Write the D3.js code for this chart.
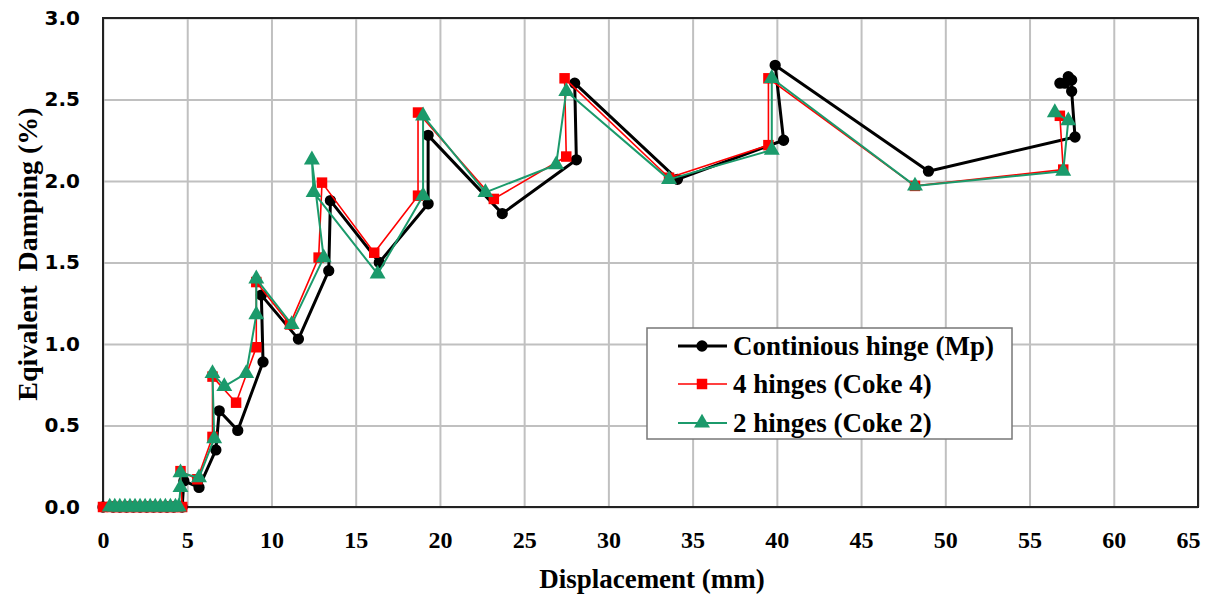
<!DOCTYPE html>
<html lang="en">
<head>
<meta charset="UTF-8">
<script src="https://d3js.org/d3.v7.min.js"></script>
<title>Equivalent Damping</title>
<style>
    body { margin: 0; background: #fff; }
</style>
</head>
<body>
<svg class="chart"></svg>

<script>
    // values: displacement (mm) and damping (%)
    let mpDisp = [0, 0.6, 1.0, 1.4, 1.8, 2.2, 2.6, 3.0, 3.4, 3.8, 4.2, 4.7, 4.8, 5.7, 6.7, 6.9, 8.0, 9.5, 9.4, 11.6,
        13.4, 13.5, 16.4, 19.3, 19.3, 23.7, 28.1, 28.0, 34.1, 40.4, 39.9, 49.0, 57.7, 57.5, 57.5, 57.3, 56.8, 57.1];
    let mpDamp = [0, 0, 0, 0, 0, 0, 0, 0, 0, 0, 0, 0, 0.16, 0.12, 0.35, 0.59, 0.47, 0.89, 1.30, 1.03,
        1.45, 1.88, 1.50, 1.86, 2.28, 1.80, 2.13, 2.60, 2.01, 2.25, 2.71, 2.06, 2.27, 2.55, 2.62, 2.64, 2.60, 2.60];

    let coke4Disp = [0, 0.5, 0.8, 1.1, 1.4, 1.7, 2.0, 2.3, 2.6, 2.9, 3.2, 3.5, 3.8, 4.1, 4.4, 4.7, 4.6, 5.6, 6.5, 6.5,
        7.9, 9.1, 9.1, 11.1, 12.8, 13.0, 16.1, 18.7, 18.7, 23.2, 27.5, 27.4, 33.6, 39.5, 39.5, 48.2, 57.0, 56.8];
    let coke4Damp = [0, 0, 0, 0, 0, 0, 0, 0, 0, 0, 0, 0, 0, 0, 0, 0, 0.22, 0.17, 0.43, 0.80,
        0.64, 0.98, 1.38, 1.12, 1.53, 1.99, 1.56, 1.91, 2.42, 1.89, 2.15, 2.63, 2.02, 2.22, 2.63, 1.97, 2.07, 2.40];

    let coke2Disp = [0.4, 0.7, 1.0, 1.3, 1.6, 1.9, 2.2, 2.5, 2.8, 3.1, 3.4, 3.7, 4.0, 4.3, 4.5, 4.6, 4.6, 5.7, 6.6, 6.5,
        7.2, 8.5, 9.1, 9.1, 11.2, 13.1, 12.4, 12.5, 16.3, 19.0, 19.0, 22.7, 26.9, 27.5, 33.6, 39.7, 39.7, 48.2, 57.0, 57.3, 56.5];
    let coke2Damp = [0, 0, 0, 0, 0, 0, 0, 0, 0, 0, 0, 0, 0, 0, 0, 0.12, 0.21, 0.18, 0.42, 0.82,
        0.74, 0.82, 1.18, 1.40, 1.12, 1.53, 2.13, 1.93, 1.43, 1.91, 2.40, 1.93, 2.10, 2.55, 2.01, 2.19, 2.63, 1.97, 2.06, 2.37, 2.42];

    let seriesNames = ['Continious hinge (Mp)', '4 hinges (Coke 4)', '2 hinges (Coke 2)'];
    let xTicks = [0, 5, 10, 15, 20, 25, 30, 35, 40, 45, 50, 55, 60, 65];
    let yTicks = [0, 0.5, 1.0, 1.5, 2.0, 2.5, 3.0];

    let chart_width = 1220;
    let chart_height = 594;
    let plotLeft = 103, plotRight = 1198, plotTop = 18, plotBottom = 507;

    let x_range = d3.scaleLinear().domain([0, 65]).range([plotLeft, plotRight]);
    let y_range = d3.scaleLinear().domain([0, 3]).range([plotBottom, plotTop]);

    let svg = d3.select('.chart').attr('width', chart_width).attr('height', chart_height);

    // grid lines
    svg.append('g')
        .attr('transform', 'translate(0,' + plotBottom + ')')
        .call(d3.axisBottom(x_range).tickValues(xTicks).tickSize(-(plotBottom - plotTop)).tickFormat(''))
        .call(g => g.select('.domain').remove())
        .selectAll('line').style('stroke', '#c0c0c0').style('stroke-width', 2);
    svg.append('g')
        .attr('transform', 'translate(' + plotLeft + ',0)')
        .call(d3.axisLeft(y_range).tickValues(yTicks).tickSize(-(plotRight - plotLeft)).tickFormat(''))
        .call(g => g.select('.domain').remove())
        .selectAll('line').style('stroke', '#c0c0c0').style('stroke-width', 2);

    // frame
    svg.append('rect')
        .attr('x', plotLeft).attr('y', plotTop)
        .attr('width', plotRight - plotLeft).attr('height', plotBottom - plotTop)
        .style('fill', 'none').style('stroke', '#222').style('stroke-width', 2);

    // tick labels
    let xAxis = svg.append('g')
        .attr('transform', 'translate(0,' + plotBottom + ')')
        .call(d3.axisBottom(x_range).tickValues(xTicks).tickSize(0).tickPadding(24).tickFormat(d3.format('d')));
    xAxis.select('.domain').remove();
    xAxis.selectAll('text')
        .style('font-family', '"Liberation Serif", "Times New Roman", serif')
        .style('font-weight', 'bold').style('font-size', '24px').style('fill', '#000');
    // last label is pulled in so it stays inside the picture
    xAxis.selectAll('text').filter(d => d === 65).attr('x', -10);

    let yAxis = svg.append('g')
        .attr('transform', 'translate(' + plotLeft + ',0)')
        .call(d3.axisLeft(y_range).tickValues(yTicks).tickSize(0).tickPadding(23).tickFormat(d3.format('.1f')));
    yAxis.select('.domain').remove();
    yAxis.selectAll('text')
        .style('font-family', '"DejaVu Sans", sans-serif')
        .style('font-weight', 'bold').style('font-size', '20px').style('fill', '#000');

    // axis titles
    svg.append('text')
        .attr('x', 652).attr('y', 588)
        .attr('text-anchor', 'middle')
        .style('font-family', '"Liberation Serif", "Times New Roman", serif')
        .style('font-weight', 'bold').style('font-size', '27px')
        .text('Displacement (mm)');
    svg.append('text')
        .attr('transform', 'translate(37,254) rotate(-90)')
        .attr('text-anchor', 'middle')
        .attr('xml:space', 'preserve')
        .style('font-family', '"Liberation Serif", "Times New Roman", serif')
        .style('font-weight', 'bold').style('font-size', '28px')
        .style('white-space', 'pre')
        .text('Eqivalent  Damping (%)');

    let series = [
        {disp: mpDisp, damp: mpDamp, color: '#000000', width: 3, marker: d3.symbolCircle, size: 100},
        {disp: coke4Disp, damp: coke4Damp, color: '#ff0000', width: 1.6, marker: d3.symbolSquare, size: 110},
        {disp: coke2Disp, damp: coke2Damp, color: '#1b9a6b', width: 2, marker: d3.symbolTriangle, size: 110}
    ];

    let line = d3.line()
        .x(d => x_range(d[0]))
        .y(d => y_range(d[1]));

    series.forEach(function (s) {
        let pts = s.disp.map((v, i) => [v, s.damp[i]]);
        svg.append('path')
            .datum(pts)
            .attr('d', line)
            .style('fill', 'none').style('stroke', s.color)
            .style('stroke-width', s.width).style('stroke-linejoin', 'round');
        svg.append('g')
            .selectAll('path')
            .data(pts)
            .enter()
            .append('path')
            .attr('transform', d => 'translate(' + x_range(d[0]) + ',' + y_range(d[1]) + ')')
            .attr('d', d3.symbol().type(s.marker).size(s.size))
            .style('fill', s.color);
    });

    // legend
    let legend = svg.append('g').attr('transform', 'translate(647,328)');
    legend.append('rect')
        .attr('width', 365).attr('height', 111)
        .style('fill', '#fff').style('stroke', '#777').style('stroke-width', 1.5);
    let rowY = [18, 56, 95];
    series.forEach(function (s, i) {
        legend.append('line')
            .attr('x1', 31).attr('x2', 80).attr('y1', rowY[i]).attr('y2', rowY[i])
            .style('stroke', s.color).style('stroke-width', s.width);
        legend.append('path')
            .attr('transform', 'translate(55,' + rowY[i] + ')')
            .attr('d', d3.symbol().type(s.marker).size(s.size))
            .style('fill', s.color);
        legend.append('text')
            .attr('x', 86).attr('y', rowY[i] + 9)
            .style('font-family', '"Liberation Serif", "Times New Roman", serif')
            .style('font-weight', 'bold').style('font-size', '27px')
            .text(seriesNames[i]);
    });
</script>
</body>
</html>
